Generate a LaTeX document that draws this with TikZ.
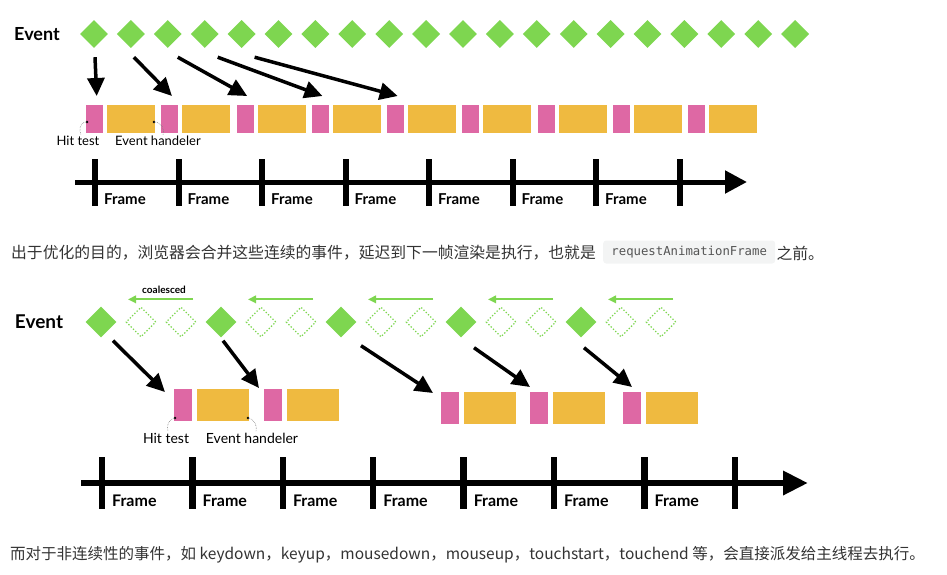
\documentclass[tikz,border=0pt]{standalone}
\usepackage{fontspec}
\usepackage{xcolor}
\setmainfont{Lato}
\newfontfamily\cjkfont{Noto Sans CJK SC}
\newfontfamily\codefont{DejaVu Sans Mono}
\usetikzlibrary{positioning, arrows.meta, calc, shapes.geometric}
\definecolor{evgreen}{HTML}{7ED650}
\definecolor{hitpink}{HTML}{DE68A4}
\definecolor{handyellow}{HTML}{EFBA40}
\definecolor{codegray}{HTML}{F3F4F4}
\definecolor{codetext}{HTML}{555555}
\definecolor{bodytext}{HTML}{333333}

\tikzset{
  evt/.style={diamond, fill=evgreen, inner sep=0pt, minimum size=28pt},
  ghost/.style={diamond, draw=evgreen, line width=1.3pt, dash pattern=on 1.3pt off 1.9pt, inner sep=0pt, minimum size=30pt},
  hit/.style={fill=hitpink, inner sep=0pt, anchor=north west, minimum width=17pt, minimum height=28pt},
  handler/.style={fill=handyellow, inner sep=0pt, anchor=north west, minimum width=48pt, minimum height=28pt},
  bigarrow/.style={line width=3.5pt, -{Triangle[length=18pt,width=17pt]}},
  coalarrow/.style={draw=evgreen, line width=1.8pt, -{Triangle[length=8pt,width=7.5pt]}},
  axis/.style={line width=5pt, -{Triangle[length=22pt,width=22pt]}},
  tick/.style={line width=6pt},
  framelbl/.style={anchor=west, inner sep=0pt, font=\bfseries\fontsize{15}{15}\selectfont},
  lbl/.style={inner sep=1pt, font=\fontsize{13}{13}\selectfont},
  pointer/.style={densely dotted, gray, semithick},
  bodyline/.style={anchor=west, inner sep=0pt, text=bodytext, font=\cjkfont\fontsize{15.8}{16}\selectfont},
}

\begin{document}
\begin{tikzpicture}[x=1pt, y=-1pt]
  \useasboundingbox (0,0) rectangle (947,574);

  % every event gets its own hit test and handler
  \node[font=\bfseries\fontsize{18}{18}\selectfont] (evA) at (37,34) {Event};
  \foreach \i in {1,...,20}
    \node[evt] (da\i) at ({94+36.9*(\i-1)},34) {};
  \foreach \i in {1,...,9} {
    \node[hit] (ha\i) at ({86+75.25*(\i-1)},105) {};
    \node[handler] (ya\i) at ({107+75.25*(\i-1)},105) {};
  }
  \foreach \i/\dx in {1/1, 2/3, 3/10, 4/13, 5/13}
    \draw[bigarrow] ([shift={(\dx pt,-9pt)}]da\i.south) -- ([shift={(2pt,9pt)}]ha\i.north);

  \node[lbl] (hitA) at (78,141) {Hit test};
  \node[lbl] (ehA) at (158,141) {Event handeler};
  \coordinate (hitAdot) at (87,122);
  \coordinate (ehAdot) at (154,122);
  \fill (hitAdot) circle (1.4pt) (ehAdot) circle (1.4pt);
  \draw[pointer] (hitAdot) .. controls +(-8pt,0pt) and +(-2pt,5pt) .. ([xshift=3pt]hitA.north);
  \draw[pointer] (ehAdot) .. controls +(8pt,0pt) and +(2pt,5pt) .. ([xshift=5pt]ehA.north);

  \coordinate (axA0) at (75,182);
  \coordinate (axA1) at (747,182);
  \draw[axis] (axA0) -- (axA1);
  \foreach \i in {0,...,7}
    \draw[tick] ({95+83.5*\i},159) -- ({95+83.5*\i},206);
  \foreach \i in {0,...,6}
    \node[framelbl] (frA\i) at ({104+83.5*\i},199) {Frame};

  \node[bodyline] (txtA) at (11,253) {出于优化的目的，浏览器会合并这些连续的事件，延迟到下一帧渲染是执行，也就是};
  \node[fill=codegray, rounded corners=3pt, inner sep=0pt, minimum width=172pt, minimum height=23pt,
        text=codetext, font=\codefont\fontsize{12.3}{12}\selectfont, anchor=west] (codeA) at (603,252) {requestAnimationFrame};
  \node[bodyline, right=1pt of codeA.east |- txtA.west, anchor=west] (txtB) {之前。};

  % coalesced events
  \node[font=\bfseries\fontsize{19}{19}\selectfont] (evB) at (39,322) {Event};
  \foreach \i in {1,...,5} {
    \node[evt, minimum size=31pt] (eb\i) at ({101+120*(\i-1)},322) {};
    \node[ghost] (ga\i) at ({141+120*(\i-1)},322) {};
    \node[ghost] (gb\i) at ({181+120*(\i-1)},322) {};
    \draw[coalarrow] ([shift={(12pt,7pt)}]gb\i.north) -- ([shift={(-13pt,7pt)}]ga\i.north);
  }
  \node[font=\bfseries\fontsize{10}{10}\selectfont] (coal) at (164,290) {coalesced};

  \foreach \i/\x/\y in {1/174/389, 2/264/389, 3/441/392, 4/530/392, 5/623/392} {
    \node[hit, minimum width=18pt, minimum height=32pt] (hb\i) at (\x,\y) {};
    \node[handler, minimum width=52pt, minimum height=32pt] (yb\i) at ({\x+23},\y) {};
  }
  \foreach \i/\sx/\sy/\ex/\ey in {1/12/-3/-9/-3, 2/2/-3/-5/1, 3/20/-8/-8/-1, 4/13/-10/0/5, 5/3/-10/9/5}
    \draw[bigarrow] ([shift={(\sx pt,\sy pt)}]eb\i.south) -- ([shift={(\ex pt,\ey pt)}]hb\i.north west);

  \node[lbl, font=\fontsize{14}{14}\selectfont] (hitB) at (166,438) {Hit test};
  \node[lbl, font=\fontsize{14}{14}\selectfont] (ehB) at (252,438) {Event handeler};
  \coordinate (hitBdot) at (175,418);
  \coordinate (ehBdot) at (248,418);
  \fill (hitBdot) circle (1.4pt) (ehBdot) circle (1.4pt);
  \draw[pointer] (hitBdot) .. controls +(-8pt,-2pt) and +(-1pt,5pt) .. ([xshift=2pt]hitB.north);
  \draw[pointer] (ehBdot) .. controls +(8pt,-2pt) and +(1pt,5pt) .. ([xshift=4pt]ehB.north);

  \coordinate (axB0) at (81,483);
  \coordinate (axB1) at (808,483);
  \draw[axis, line width=6.5pt, -{Triangle[length=25pt,width=23pt]}] (axB0) -- (axB1);
  \foreach \i in {0,...,7}
    \draw[tick, line width=6.5pt] ({102+90.4*\i},457) -- ({102+90.4*\i},509);
  \foreach \i in {0,...,6}
    \node[framelbl, font=\bfseries\fontsize{16}{16}\selectfont] (frB\i) at ({112+90.4*\i},501) {Frame};

  \node[bodyline, font=\cjkfont\fontsize{15.5}{16}\selectfont] (txtC) at (10,555) {而对于非连续性的事件，如 keydown，keyup，mousedown，mouseup，touchstart，touchend 等，会直接派发给主线程去执行。};
\end{tikzpicture}
\end{document}
